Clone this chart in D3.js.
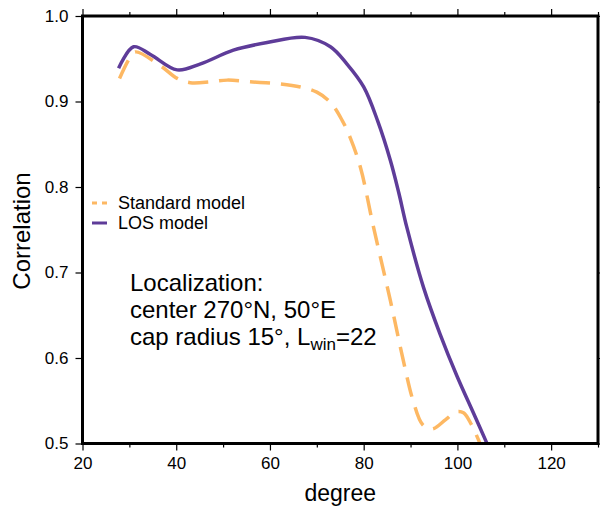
<!DOCTYPE html>
<html>
<head>
<meta charset="utf-8">
<script src="https://cdn.jsdelivr.net/npm/d3@7"></script>
<style>
  body { margin: 0; background: #fff; }
  svg { display: block; font-family: "Liberation Sans", Arial, sans-serif; }
</style>
</head>
<body>
<svg width="600" height="506"></svg>
<script>
// values
var losDeg = [27.7, 30.9, 34.5, 40.2, 45.2, 52.2, 59.4, 67.5, 72.9, 76.4, 80.0, 83.0, 85.7, 87.5, 89.2, 92.8, 96.3, 99.9, 103.4, 106.4];
var losCorr = [0.939, 0.964, 0.955, 0.937, 0.944, 0.960, 0.969, 0.975, 0.964, 0.944, 0.917, 0.877, 0.831, 0.793, 0.753, 0.682, 0.628, 0.579, 0.536, 0.499];

var stdDeg = [27.9, 30.2, 31.3, 36.6, 40.2, 43.0, 47.3, 50.9, 55.8, 61.5, 66.5, 70.0, 72.9, 75.4, 77.1, 79.3, 82.1, 85.7, 88.5, 90.6, 92.6, 94.6, 97.5, 99.7, 101.3, 103.0, 104.9];
var stdCorr = [0.927, 0.952, 0.958, 0.942, 0.927, 0.922, 0.923, 0.925, 0.923, 0.921, 0.917, 0.911, 0.899, 0.878, 0.858, 0.823, 0.753, 0.667, 0.596, 0.549, 0.522, 0.517, 0.528, 0.537, 0.536, 0.522, 0.499];

var xTicks = [20, 40, 60, 80, 100, 120];
var xMinor = [30, 50, 70, 90, 110, 130];
var yTicks = [0.5, 0.6, 0.7, 0.8, 0.9, 1.0];

var purple = "#5e3c99";
var orange = "#fdb863";

var svg = d3.select("svg");
var pLeft = 82.5, pRight = 598, pTop = 16, pBottom = 443.5;

var x = d3.scaleLinear().domain([20, 130]).range([pLeft, pRight]);
var y = d3.scaleLinear().domain([0.5, 1.0]).range([pBottom, pTop]);

var line = d3.line()
    .x(function (d) { return x(d[0]); })
    .y(function (d) { return y(d[1]); })
    .curve(d3.curveCatmullRom);

svg.append("path")
    .datum(d3.zip(stdDeg, stdCorr))
    .attr("d", line)
    .attr("fill", "none")
    .attr("stroke", orange)
    .attr("stroke-width", 3.5)
    .attr("stroke-dasharray", "20,11");

svg.append("path")
    .datum(d3.zip(losDeg, losCorr))
    .attr("d", line)
    .attr("fill", "none")
    .attr("stroke", purple)
    .attr("stroke-width", 3.5);

// axes, ticks on all four sides like the original
svg.append("g").attr("transform", "translate(0," + pBottom + ")")
    .call(d3.axisBottom(x).tickValues(xTicks).tickSize(7).tickPadding(6).tickFormat(d3.format("d")));
svg.append("g").attr("transform", "translate(0," + pBottom + ")")
    .call(d3.axisBottom(x).tickValues(xMinor).tickSize(4).tickFormat(""));
svg.append("g").attr("transform", "translate(0," + pTop + ")")
    .call(d3.axisTop(x).tickValues(xTicks).tickSize(7).tickFormat(""));
svg.append("g").attr("transform", "translate(0," + pTop + ")")
    .call(d3.axisTop(x).tickValues(xMinor).tickSize(4).tickFormat(""));
svg.append("g").attr("transform", "translate(" + pLeft + ",0)")
    .call(d3.axisLeft(y).tickValues(yTicks).tickSize(7).tickPadding(7).tickFormat(d3.format(".1f")));
svg.append("g").attr("transform", "translate(" + pRight + ",0)")
    .call(d3.axisRight(y).tickValues(yTicks).tickSize(7).tickFormat(""));

svg.selectAll(".domain").remove();
svg.selectAll(".tick line").attr("stroke", "#000").attr("stroke-width", 1.2);
svg.selectAll(".tick text").attr("font-size", 17).attr("fill", "#000")
    .attr("font-family", "Liberation Sans, Arial, sans-serif");

svg.append("rect")
    .attr("x", pLeft).attr("y", pTop)
    .attr("width", pRight - pLeft).attr("height", pBottom - pTop)
    .attr("fill", "none").attr("stroke", "#000").attr("stroke-width", 3);

// axis titles
svg.append("text")
    .attr("x", (pLeft + pRight) / 2).attr("y", 501)
    .attr("text-anchor", "middle").attr("font-size", 23)
    .text("degree");
svg.append("text")
    .attr("transform", "translate(30,231) rotate(-90)")
    .attr("text-anchor", "middle").attr("font-size", 24)
    .text("Correlation");

// legend
var legend = svg.append("g");
legend.append("line")
    .attr("x1", 92).attr("x2", 107).attr("y1", 203).attr("y2", 203)
    .attr("stroke", orange).attr("stroke-width", 3).attr("stroke-dasharray", "5,5");
legend.append("line")
    .attr("x1", 92).attr("x2", 107).attr("y1", 223).attr("y2", 223)
    .attr("stroke", purple).attr("stroke-width", 3);
legend.append("text").attr("x", 118).attr("y", 209).attr("font-size", 18).text("Standard model");
legend.append("text").attr("x", 118).attr("y", 229).attr("font-size", 18).text("LOS model");

// annotation
var note = svg.append("g").attr("font-size", 24);
note.append("text").attr("x", 130).attr("y", 291).text("Localization:");
note.append("text").attr("x", 130).attr("y", 318).text("center 270°N, 50°E");
var l3 = note.append("text").attr("x", 130).attr("y", 345);
l3.append("tspan").text("cap radius 15°, L");
l3.append("tspan").attr("font-size", 17).attr("dy", 5).text("win");
l3.append("tspan").attr("dy", -5).text("=22");
</script>
</body>
</html>
